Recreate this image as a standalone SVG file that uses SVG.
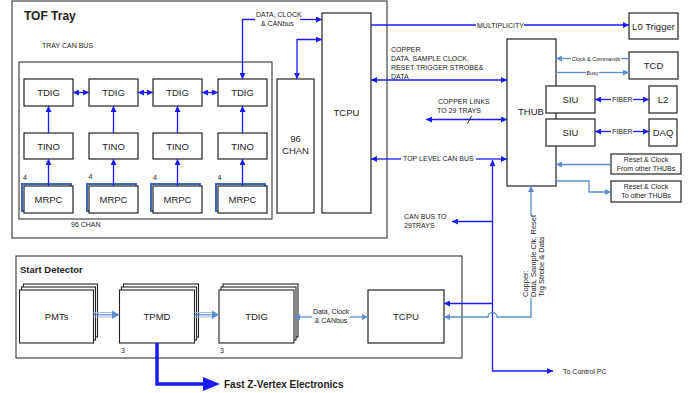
<svg xmlns="http://www.w3.org/2000/svg" width="697" height="393" viewBox="0 0 697 393">
<defs>
<style>
.bx{fill:#fff;stroke:#222;stroke-width:1.2}
.ct{fill:none;stroke:#333;stroke-width:1.1}
text{font-family:"Liberation Sans",Arial,sans-serif;fill:#222}
.lb{font-size:9.5px;text-anchor:middle}
.sm{font-size:7px}
.xs{font-size:5.5px}
.hd{font-size:12px;font-weight:bold}
.b{stroke:#1a1aff;stroke-width:1.3;fill:none}
.l{stroke:#5b8dd0;stroke-width:1.3;fill:none}
.sh{fill:none;stroke:#3d66b8;stroke-width:2}
.stk{fill:#fff;stroke:#222;stroke-width:1.1}
</style>
<marker id="ab" viewBox="0 0 10 10" refX="10" refY="5" markerWidth="7" markerHeight="6" markerUnits="userSpaceOnUse" orient="auto-start-reverse"><path d="M0,0 L10,5 L0,10 z" fill="#1a1aff"/></marker>
<marker id="al" viewBox="0 0 10 10" refX="10" refY="5" markerWidth="7" markerHeight="6" markerUnits="userSpaceOnUse" orient="auto-start-reverse"><path d="M0,0 L10,5 L0,10 z" fill="#5b8dd0"/></marker>
</defs>
<rect width="697" height="393" fill="#fff"/>

<g id="tof-tray">
<rect class="ct" x="12" y="1" width="375" height="237"/>
<text class="hd" x="24" y="20">TOF Tray</text>
<text class="sm" x="42" y="48">TRAY CAN BUS</text>
<rect class="ct" x="19" y="62" width="253" height="157"/>
<text class="sm" x="71" y="227" font-size="7.5">96 CHAN</text>
</g>

<g id="tdig1"><rect class="bx" x="24" y="79" width="49" height="27"/><text class="lb" x="48.5" y="96">TDIG</text></g>
<g id="tdig2"><rect class="bx" x="89" y="79" width="49" height="27"/><text class="lb" x="113.5" y="96">TDIG</text></g>
<g id="tdig3"><rect class="bx" x="153" y="79" width="49" height="27"/><text class="lb" x="177.5" y="96">TDIG</text></g>
<g id="tdig4"><rect class="bx" x="218" y="79" width="49" height="27"/><text class="lb" x="242.5" y="96">TDIG</text></g>

<g id="tino1"><rect class="bx" x="24" y="133" width="49" height="26"/><text class="lb" x="48.5" y="149.5">TINO</text></g>
<g id="tino2"><rect class="bx" x="89" y="133" width="49" height="26"/><text class="lb" x="113.5" y="149.5">TINO</text></g>
<g id="tino3"><rect class="bx" x="153" y="133" width="49" height="26"/><text class="lb" x="177.5" y="149.5">TINO</text></g>
<g id="tino4"><rect class="bx" x="218" y="133" width="49" height="26"/><text class="lb" x="242.5" y="149.5">TINO</text></g>

<g id="mrpc1"><rect class="sh" x="22" y="184" width="49" height="27"/><rect class="bx" x="24" y="186" width="49" height="27"/><text class="lb" x="48.5" y="203">MRPC</text><text class="sm" x="23" y="180">4</text></g>
<g id="mrpc2"><rect class="sh" x="87" y="184" width="49" height="27"/><rect class="bx" x="89" y="186" width="49" height="27"/><text class="lb" x="113.5" y="203">MRPC</text><text class="sm" x="88.5" y="179">4</text></g>
<g id="mrpc3"><rect class="sh" x="151" y="184" width="49" height="27"/><rect class="bx" x="153" y="186" width="49" height="27"/><text class="lb" x="177.5" y="203">MRPC</text><text class="sm" x="153" y="180">4</text></g>
<g id="mrpc4"><rect class="sh" x="216" y="184" width="49" height="27"/><rect class="bx" x="218" y="186" width="49" height="27"/><text class="lb" x="242.5" y="203">MRPC</text><text class="sm" x="217.5" y="180">4</text></g>

<g id="chan96"><rect class="bx" x="277" y="79" width="37" height="134"/><text class="lb" x="295.5" y="142" font-size="9">96</text><text class="lb" x="295.5" y="154" font-size="9">CHAN</text></g>
<g id="tcpu-tray"><rect class="bx" x="322" y="13" width="49" height="200"/><text class="lb" x="346.5" y="116">TCPU</text></g>

<g id="l0"><rect class="bx" x="629" y="13" width="49" height="26"/><text class="lb" x="653.5" y="29.5" font-size="9">L0 Trigger</text></g>
<g id="thub"><rect class="bx" x="507" y="39" width="49" height="147"/><text class="lb" x="531" y="115">THUB</text></g>
<g id="tcd"><rect class="bx" x="629" y="52" width="49" height="27"/><text class="lb" x="653.5" y="69">TCD</text></g>
<g id="siu1"><rect class="bx" x="546" y="86" width="49" height="27"/><text class="lb" x="570.5" y="103">SIU</text></g>
<g id="siu2"><rect class="bx" x="546" y="119" width="49" height="27"/><text class="lb" x="570.5" y="136">SIU</text></g>
<g id="l2"><rect class="bx" x="649" y="86" width="28" height="27"/><text class="lb" x="663" y="103">L2</text></g>
<g id="daq"><rect class="bx" x="649" y="119" width="28" height="27"/><text class="lb" x="663" y="136">DAQ</text></g>
<g id="reset-from"><rect class="bx" x="611" y="154" width="70" height="20"/><text class="sm" x="646" y="162" text-anchor="middle">Reset &amp; Clock</text><text class="sm" x="646" y="171" text-anchor="middle">From other THUBs</text></g>
<g id="reset-to"><rect class="bx" x="611" y="181" width="70" height="21"/><text class="sm" x="646" y="189" text-anchor="middle">Reset &amp; Clock</text><text class="sm" x="646" y="198" text-anchor="middle">To other THUBs</text></g>

<g id="start-detector">
<rect class="ct" x="16" y="256" width="446" height="102"/>
<text x="20" y="273" font-size="9.5" font-weight="bold">Start Detector</text>
</g>
<g id="pmts"><rect class="stk" x="23.5" y="284" width="74" height="53"/><rect class="stk" x="21.5" y="287" width="74" height="53"/><rect class="stk" x="19.5" y="290" width="74" height="53"/><text class="lb" x="56.5" y="319.5">PMTs</text></g>
<g id="tpmd"><rect class="stk" x="123.5" y="284" width="75" height="53"/><rect class="stk" x="121.5" y="287" width="75" height="53"/><rect class="stk" x="119.5" y="290" width="75" height="53"/><text class="lb" x="157" y="319.5">TPMD</text><text class="sm" x="121" y="352.5">3</text></g>
<g id="tdig-start"><rect class="stk" x="223" y="284" width="75" height="53"/><rect class="stk" x="221" y="287" width="75" height="53"/><rect class="stk" x="219" y="290" width="75" height="53"/><text class="lb" x="256.5" y="319.5">TDIG</text><text class="sm" x="220" y="352.5">3</text></g>
<g id="tcpu-start"><rect class="bx" x="368" y="290" width="76" height="53"/><text class="lb" x="406" y="319.5">TCPU</text></g>

<g id="connectors">
<!-- tray vertical -->
<path class="b" d="M48.5,133 V106" marker-end="url(#ab)"/>
<path class="b" d="M113.5,133 V106" marker-end="url(#ab)"/>
<path class="b" d="M177.5,133 V106" marker-end="url(#ab)"/>
<path class="b" d="M242.5,133 V106" marker-end="url(#ab)"/>
<path class="b" d="M48.5,186 V159" marker-end="url(#ab)"/>
<path class="b" d="M113.5,186 V159" marker-end="url(#ab)"/>
<path class="b" d="M177.5,186 V159" marker-end="url(#ab)"/>
<path class="b" d="M242.5,186 V159" marker-end="url(#ab)"/>
<path class="b" d="M73,92.5 H89" marker-start="url(#ab)" marker-end="url(#ab)"/>
<path class="b" d="M138,92.5 H153" marker-start="url(#ab)" marker-end="url(#ab)"/>
<path class="b" d="M202,92.5 H218" marker-start="url(#ab)" marker-end="url(#ab)"/>
<!-- data clock canbus -->
<path class="b" d="M255,19.5 H242.5 V79" marker-end="url(#ab)"/>
<path class="b" d="M300,19.5 H322" marker-end="url(#ab)"/>
<text class="sm" x="256" y="17">DATA, CLOCK</text>
<text class="sm" x="261" y="25.5">&amp; CANbus</text>
<path class="b" d="M322,39.5 H297 V79" marker-start="url(#ab)" marker-end="url(#ab)"/>
<!-- multiplicity -->
<path class="b" d="M371,25 H476"/>
<path class="b" d="M524,25 H629" marker-end="url(#ab)"/>
<text class="sm" x="477" y="27.5" font-size="6.8">MULTIPLICITY</text>
<!-- copper -->
<path class="b" d="M371,80 H507" marker-start="url(#ab)" marker-end="url(#ab)"/>
<text class="sm" x="391" y="52">COPPER</text>
<text class="sm" x="391" y="61">DATA,  SAMPLE CLOCK,</text>
<text class="sm" x="391" y="70">RESET  TRIGGER STROBE&amp;</text>
<text class="sm" x="391" y="79">DATA</text>
<!-- copper links -->
<path class="b" d="M426,119.5 H507" marker-start="url(#ab)" marker-end="url(#ab)"/>
<path d="M467.5,123.5 L471.5,116" stroke="#222" stroke-width="1" fill="none"/>
<text class="sm" x="438" y="103.5">COPPER LINKS</text>
<text class="sm" x="437" y="112.5">TO 29 TRAYS</text>
<!-- top level can bus -->
<path class="b" d="M401,159 H371" marker-end="url(#ab)"/>
<path class="b" d="M476,159 H507" marker-end="url(#ab)"/>
<text class="sm" x="403" y="161">TOP LEVEL CAN BUS</text>
<path class="b" d="M492.5,160 V371 H553" marker-start="url(#ab)" marker-end="url(#ab)"/>
<path class="b" d="M492.5,221.5 H452" marker-end="url(#ab)"/>
<text class="sm" x="404" y="218.5">CAN BUS TO</text>
<text class="sm" x="404" y="228">29TRAYS</text>
<text class="sm" x="563" y="373.5">To Control PC</text>
<path class="b" d="M492.5,303.5 H444" marker-end="url(#ab)"/>
<!-- light blue copper to start tcpu / thub -->
<path class="l" d="M444,317 H488 A4.5,4.5 0 0 1 497,317 H531 V186" marker-start="url(#al)" marker-end="url(#al)"/>
<rect x="520" y="216" width="25" height="82" fill="#fff"/>
<text font-size="7.5" transform="translate(527.5,297) rotate(-90)"><tspan x="0" y="0">Copper:</tspan><tspan x="0" y="8">Data, Sample Clk, Reset</tspan><tspan x="0" y="16">Trg Strobe &amp; Data</tspan></text>
<!-- TCD -->
<path class="l" d="M629,58.5 H621"/>
<path class="l" d="M571,58.5 H556" marker-end="url(#al)"/>
<text class="xs" x="596" y="60.5" text-anchor="middle">Clock &amp; Commands</text>
<path class="l" d="M556,72.5 H586"/>
<path class="l" d="M599,72.5 H629" marker-end="url(#al)"/>
<text class="xs" x="592.5" y="74.5" text-anchor="middle">Busy</text>
<!-- fiber -->
<path class="b" d="M611,99.5 H595" marker-end="url(#ab)"/>
<path class="b" d="M633,99.5 H649" marker-end="url(#ab)"/>
<text class="sm" x="612" y="102">FIBER</text>
<path class="b" d="M611,131.5 H595" marker-end="url(#ab)"/>
<path class="b" d="M633,131.5 H649" marker-end="url(#ab)"/>
<text class="sm" x="612" y="134">FIBER</text>
<!-- reset -->
<path class="l" d="M611,164.5 H556" marker-end="url(#al)"/>
<path class="l" d="M556,181 H589 V192 H611" marker-end="url(#al)"/>
<!-- start detector -->
<path d="M93.5,312.5 H114 M93.5,317 H114" stroke="#9fbbe3" stroke-width="1.2" fill="none"/>
<path d="M93.5,314.8 H114" stroke="#5b8dd0" stroke-width="1.2" fill="none"/>
<path d="M112,310.5 L119.5,314.8 L112,319 z" fill="#5b8dd0"/>
<path d="M194.5,312.5 H214 M194.5,317 H214" stroke="#9fbbe3" stroke-width="1.2" fill="none"/>
<path d="M194.5,314.8 H214" stroke="#5b8dd0" stroke-width="1.2" fill="none"/>
<path d="M212,310.5 L219,314.8 L212,319 z" fill="#5b8dd0"/>
<path class="l" d="M312,317 H294" marker-end="url(#al)"/>
<path class="l" d="M350,317 H368" marker-end="url(#al)"/>
<text class="sm" x="331" y="313.5" text-anchor="middle">Data, Clock</text>
<text class="sm" x="331" y="323" text-anchor="middle">&amp; CANbus</text>
<!-- fast z-vertex -->
<path d="M157,343 V384 H205" stroke="#1a1aff" stroke-width="3.5" fill="none"/>
<path d="M203,377 L220,384 L203,391 z" fill="#1a1aff"/>
<text x="224" y="388" font-size="10" font-weight="bold">Fast Z-Vertex Electronics</text>
</g>
</svg>
